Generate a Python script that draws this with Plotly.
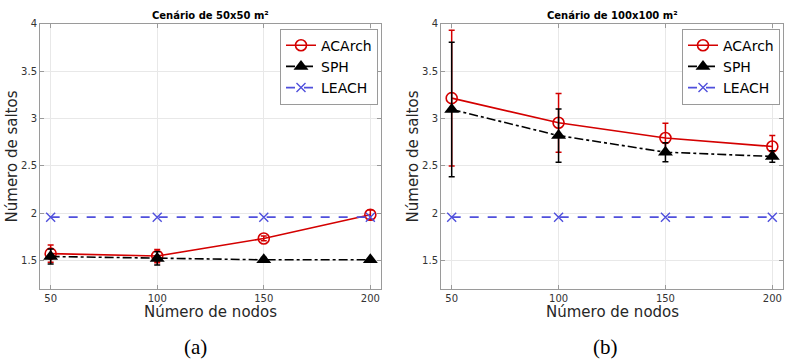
import plotly.graph_objects as go

nodes = [50, 100, 150, 200]

# Panel (a): 50x50 m2
acarch_a = [1.575, 1.55, 1.735, 1.985]
acarch_a_err = [0.09, 0.07, 0.025, 0.05]
sph_a = [1.545, 1.525, 1.51, 1.51]
sph_a_err = [0.08, 0.07, 0.025, 0.015]
leach_a = [1.96, 1.96, 1.96, 1.96]

# Panel (b): 100x100 m2
acarch_b = [3.215, 2.955, 2.795, 2.705]
acarch_b_err = [0.715, 0.31, 0.155, 0.115]
sph_b = [3.095, 2.82, 2.645, 2.6]
sph_b_err = [0.71, 0.28, 0.1, 0.06]
leach_b = [1.96, 1.96, 1.96, 1.96]

titles = ["Cenário de 50x50 m²", "Cenário de 100x100 m²"]
labels = ["(a)", "(b)"]
ytick_vals = [1.5, 2, 2.5, 3, 3.5, 4]
ytick_text = ["1.5", "2", "2.5", "3", "3.5", "4"]

RED = "#d40000"
BLACK = "#000000"
BLUE = "#4f4fdc"

W, H = 787, 360
fig = go.Figure()

panels = [
    (acarch_a, acarch_a_err, sph_a, sph_a_err, leach_a),
    (acarch_b, acarch_b_err, sph_b, sph_b_err, leach_b),
]
for i, (ac, ace, sp, spe, le) in enumerate(panels):
    xa = "x" if i == 0 else "x2"
    ya = "y" if i == 0 else "y2"
    lg = "legend" if i == 0 else "legend2"
    fig.add_trace(go.Scatter(
        x=nodes, y=ac, name="ACArch", xaxis=xa, yaxis=ya, legend=lg,
        mode="lines+markers",
        line=dict(color=RED, width=1.6),
        marker=dict(symbol="circle-open", size=11, color=RED, line=dict(width=1.6, color=RED)),
        error_y=dict(type="data", array=ace, color=RED, thickness=1.5, width=3),
    ))
    fig.add_trace(go.Scatter(
        x=nodes, y=sp, name="SPH", xaxis=xa, yaxis=ya, legend=lg,
        mode="lines+markers",
        line=dict(color=BLACK, width=1.6, dash="dashdot"),
        marker=dict(symbol="triangle-up", size=13, color=BLACK),
        error_y=dict(type="data", array=spe, color=BLACK, thickness=1.5, width=3),
    ))
    fig.add_trace(go.Scatter(
        x=nodes, y=le, name="LEACH", xaxis=xa, yaxis=ya, legend=lg,
        mode="lines+markers",
        line=dict(color=BLUE, width=1.6, dash="dash"),
        marker=dict(symbol="x-thin-open", size=9, color=BLUE, line=dict(width=1.4, color=BLUE)),
    ))

xdoms = [[40 / W, 381 / W], [441 / W, 783 / W]]
ydom = [(H - 288) / H, (H - 18) / H]

axis_common = dict(
    showline=True, linecolor="#9a9a9a", linewidth=1, mirror="ticks",
    showgrid=True, gridcolor="#e8e8e8", gridwidth=1,
    ticks="inside", ticklen=4, tickcolor="#9a9a9a",
    tickfont=dict(family="DejaVu Sans", size=10, color="#333333"),
    zeroline=False,
)
fig.update_layout(
    xaxis=dict(domain=xdoms[0], range=[45, 205], tickvals=nodes, anchor="y", **axis_common),
    yaxis=dict(domain=ydom, range=[1.2, 4], tickvals=ytick_vals, ticktext=ytick_text, anchor="x", **axis_common),
    xaxis2=dict(domain=xdoms[1], range=[45, 205], tickvals=nodes, anchor="y2", **axis_common),
    yaxis2=dict(domain=ydom, range=[1.2, 4], tickvals=ytick_vals, ticktext=ytick_text, anchor="x2", **axis_common),
)

legend_common = dict(
    bgcolor="white", bordercolor="#9a9a9a", borderwidth=1,
    font=dict(family="DejaVu Sans", size=14, color="black"),
    xanchor="right", yanchor="top", itemwidth=30, tracegroupgap=0,
)
fig.update_layout(
    legend=dict(x=378 / W, y=(H - 23) / H, **legend_common),
    legend2=dict(x=780 / W, y=(H - 23) / H, **legend_common),
)

annotations = []
centers = [(40 + 381) / 2, (441 + 783) / 2]
ytitle_x = [12, 413]
for i in range(2):
    annotations.append(dict(
        text="<b>" + titles[i] + "</b>", x=centers[i] / W, y=(H - 10) / H,
        xref="paper", yref="paper", showarrow=False, xanchor="center", yanchor="middle",
        font=dict(family="DejaVu Sans", size=10, color="black"),
    ))
    annotations.append(dict(
        text="Número de nodos", x=centers[i] / W, y=(H - 311) / H,
        xref="paper", yref="paper", showarrow=False, xanchor="center", yanchor="middle",
        font=dict(family="DejaVu Sans", size=15, color="#262626"),
    ))
    annotations.append(dict(
        text="Número de saltos", x=ytitle_x[i] / W, y=(H - 153) / H, textangle=-90,
        xref="paper", yref="paper", showarrow=False, xanchor="center", yanchor="middle",
        font=dict(family="DejaVu Sans", size=15, color="#262626"),
    ))
    annotations.append(dict(
        text=labels[i], x=(195 if i == 0 else 605) / W, y=(H - 347) / H,
        xref="paper", yref="paper", showarrow=False, xanchor="center", yanchor="middle",
        font=dict(family="Liberation Serif", size=21, color="black"),
    ))

fig.update_layout(
    width=W, height=H, margin=dict(l=0, r=0, t=0, b=0),
    paper_bgcolor="white", plot_bgcolor="white",
    annotations=annotations,
)

fig.write_html("out.html")
